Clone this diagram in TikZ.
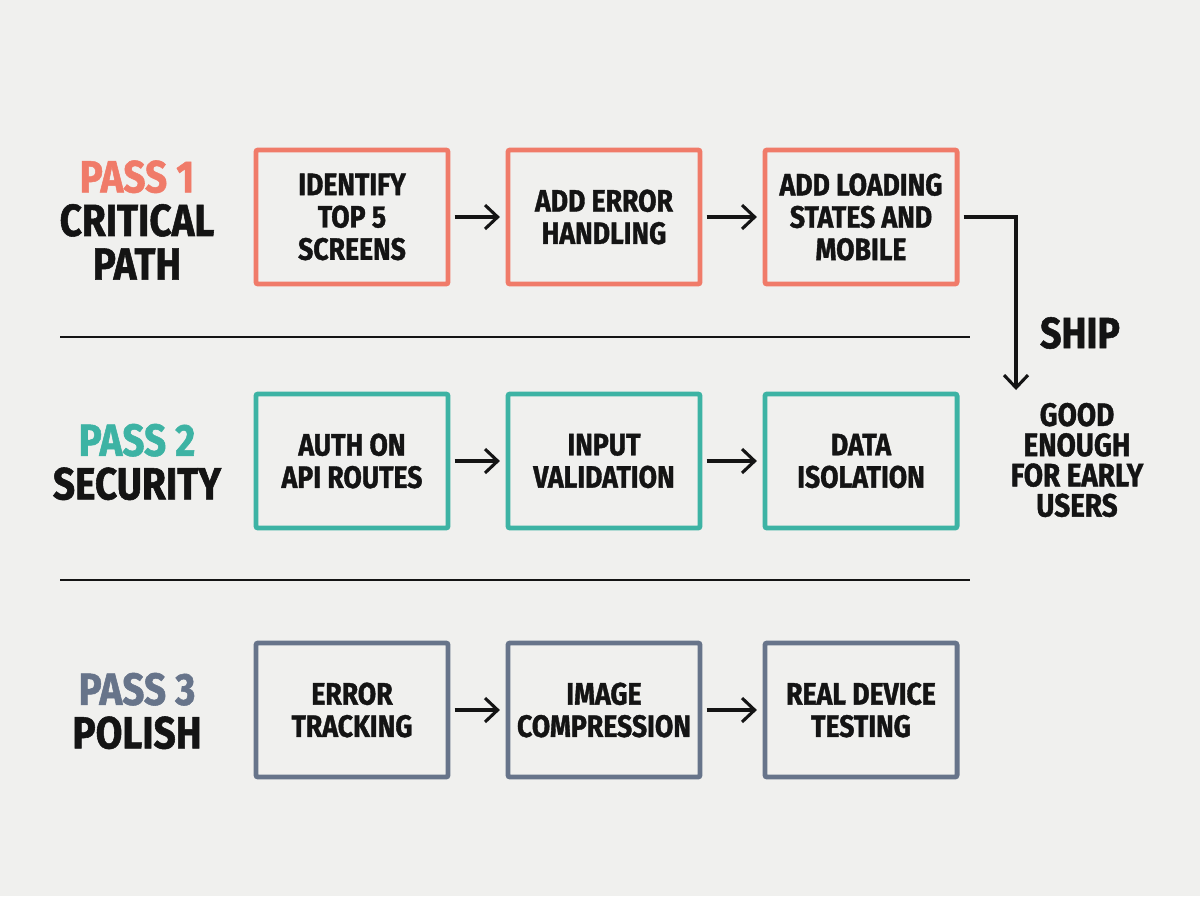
\documentclass[tikz,border=0pt]{standalone}
\usepackage{fontspec}
\setmainfont[FakeStretch=0.86, BoldFeatures={FakeBold=1.2}]{Fira Sans}
\usetikzlibrary{arrows.meta}
\definecolor{bgcol}{HTML}{F0F0EE}
\definecolor{passone}{HTML}{F07B69}
\definecolor{passtwo}{HTML}{3DB3A4}
\definecolor{passthree}{HTML}{67748A}
\definecolor{inkcol}{HTML}{141414}

\begin{document}
\begin{tikzpicture}[x=0.025cm,y=-0.025cm,>={Straight Barb[length=9pt,width=17pt]},
	stepbox/.style={draw, line width=3.5pt, rounded corners=1.5pt, minimum width=4.8cm, minimum height=3.35cm,
		align=center, text=inkcol, font=\bfseries\fontsize{22}{23}\selectfont},
	passlabel/.style={align=center, text=inkcol, font=\bfseries\fontsize{32}{31}\selectfont},
	flow/.style={->, line width=2.2pt, draw=inkcol, shorten <=3pt, shorten >=4pt}]
		%\draw [help lines] (0,0) grid (1200,896);
		\fill [bgcol] (0,0) rectangle (1200,896);
		
		% pass 1
		\node [passlabel] (p1) at (137,220) {{\color{passone}PASS 1}\\CRITICAL\\PATH};
		\node [stepbox, draw=passone] (a1) at (352,217) {IDENTIFY\\TOP 5\\SCREENS};
		\node [stepbox, draw=passone] (a2) at (604,217) {ADD ERROR\\HANDLING};
		\node [stepbox, draw=passone] (a3) at (861,217) {ADD LOADING\\STATES AND\\MOBILE};
		\draw [flow] (a1) -- (a2);
		\draw [flow] (a2) -- (a3);
		
		\draw [line width=2pt, inkcol] (60,337) -- (970,337);
		
		% pass 2
		\node [passlabel] (p2) at (137,462) {{\color{passtwo}PASS 2}\\SECURITY};
		\node [stepbox, draw=passtwo] (b1) at (352,461) {AUTH ON\\API ROUTES};
		\node [stepbox, draw=passtwo] (b2) at (604,461) {INPUT\\VALIDATION};
		\node [stepbox, draw=passtwo] (b3) at (861,461) {DATA\\ISOLATION};
		\draw [flow] (b1) -- (b2);
		\draw [flow] (b2) -- (b3);
		
		\draw [line width=2pt, inkcol] (60,580) -- (970,580);
		
		% pass 3
		\node [passlabel] (p3) at (137,711) {{\color{passthree}PASS 3}\\POLISH};
		\node [stepbox, draw=passthree] (c1) at (352,710) {ERROR\\TRACKING};
		\node [stepbox, draw=passthree] (c2) at (604,710) {IMAGE\\COMPRESSION};
		\node [stepbox, draw=passthree] (c3) at (861,710) {REAL DEVICE\\TESTING};
		\draw [flow] (c1) -- (c2);
		\draw [flow] (c2) -- (c3);
		
		% ship
		\coordinate (shipend) at (1016,390);
		\draw [->, line width=2.2pt, inkcol] ([xshift=3pt]a3.east) -| (shipend);
		\node [text=inkcol, font=\bfseries\fontsize{31}{31}\selectfont] (ship) at (1080,333) {SHIP};
		\node [align=center, text=inkcol, font=\bfseries\fontsize{23}{21.5}\selectfont] (good) at (1077,460) {GOOD\\ENOUGH\\FOR EARLY\\USERS};
	\end{tikzpicture}
\end{document}
